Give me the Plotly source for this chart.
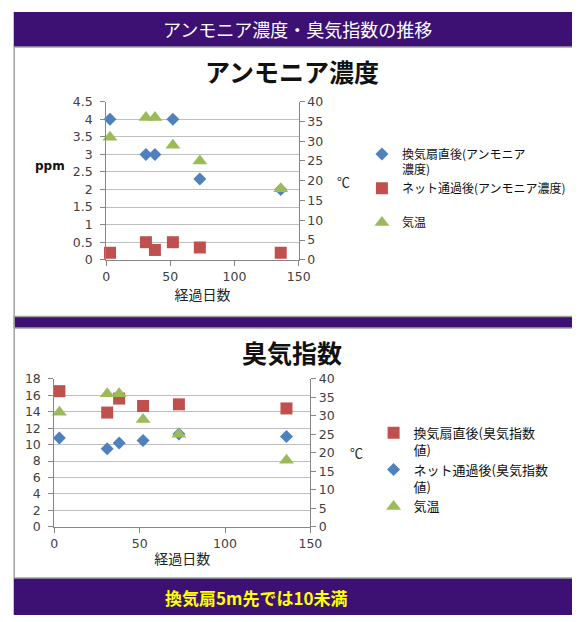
import plotly.graph_objects as go

# ---- data ----
days = [3, 31, 38, 52, 73, 136]
amm_fan = [4.0, 3.0, 3.0, 4.0, 2.3, 2.0]        # 換気扇直後(アンモニア濃度) ppm
amm_net = [0.2, 0.5, 0.28, 0.5, 0.35, 0.2]      # ネット通過後(アンモニア濃度) ppm
temp = [31, 36, 36, 29, 25, 18]                 # 気温 ℃
odor_fan = [16.5, 13.9, 15.6, 14.7, 14.9, 14.4]  # 換気扇直後(臭気指数値)
odor_net = [10.8, 9.5, 10.2, 10.5, 11.3, 11.0]   # ネット通過後(臭気指数値)

x_ticks = [0, 50, 100, 150]

W, H = 584, 622
BLUE, RED, GREEN = "#4F81BD", "#C0504D", "#9BBB59"
PURPLE = "#3d1174"
JP = "Noto Sans CJK JP"
NUM = "DejaVu Sans, Noto Sans CJK JP"
AX = "#868686"
GRID = "#bfbfbf"
TXT = "#404040"


def px(v):
    return v / W


def py(v):
    return 1 - v / H


fig = go.Figure()

# ---- chart 1 : アンモニア濃度 ----
fig.add_trace(go.Scatter(x=days, y=amm_fan, mode="markers", name="換気扇直後(アンモニア<br>濃度)",
                         marker=dict(symbol="diamond", color=BLUE, size=10),
                         xaxis="x", yaxis="y", legend="legend", cliponaxis=False))
fig.add_trace(go.Scatter(x=days, y=amm_net, mode="markers", name="ネット通過後(アンモニア濃度)<br>\u00a0",
                         marker=dict(symbol="square", color=RED, size=12),
                         xaxis="x", yaxis="y", legend="legend", cliponaxis=False))
fig.add_trace(go.Scatter(x=days, y=temp, mode="markers", name="気温",
                         marker=dict(symbol="triangle-up", color=GREEN, size=13),
                         xaxis="x", yaxis="y2", legend="legend", cliponaxis=False))

# ---- chart 2 : 臭気指数 ----
fig.add_trace(go.Scatter(x=days, y=odor_fan, mode="markers", name="換気扇直後(臭気指数<br>値)",
                         marker=dict(symbol="square", color=RED, size=12),
                         xaxis="x2", yaxis="y3", legend="legend2", cliponaxis=False))
fig.add_trace(go.Scatter(x=days, y=odor_net, mode="markers", name="ネット通過後(臭気指数<br>値)",
                         marker=dict(symbol="diamond", color=BLUE, size=10),
                         xaxis="x2", yaxis="y3", legend="legend2", cliponaxis=False))
fig.add_trace(go.Scatter(x=days, y=temp, mode="markers", name="気温",
                         marker=dict(symbol="triangle-up", color=GREEN, size=13),
                         xaxis="x2", yaxis="y4", legend="legend2", cliponaxis=False))

tickfont = dict(family=NUM, size=12.5, color=TXT)
common = dict(showline=True, linecolor=AX, linewidth=1, ticks="outside", ticklen=5,
              tickcolor=AX, tickfont=tickfont, zeroline=False, fixedrange=True)

fig.update_layout(
    width=W, height=H, margin=dict(l=0, r=0, t=0, b=0),
    paper_bgcolor="white", plot_bgcolor="white",
    xaxis=dict(domain=[px(105), px(303)], range=[0, 150], tickvals=x_ticks, anchor="y",
               showgrid=False,
               title=dict(text="経過日数", font=dict(family=JP, size=14, color="#222"), standoff=4),
               **common),
    yaxis=dict(domain=[py(258), py(96)], range=[0, 4.5], dtick=0.5, anchor="x",
               showgrid=True, gridcolor=GRID, ticklabelstandoff=5, **common),
    yaxis2=dict(overlaying="y", side="right", anchor="x", range=[0, 40], dtick=5,
                showgrid=False, **common),
    xaxis2=dict(domain=[px(51.7), px(315)], range=[0, 150], tickvals=x_ticks, anchor="y3",
                showgrid=False,
                title=dict(text="経過日数", font=dict(family=JP, size=14, color="#222"), standoff=4),
                **common),
    yaxis3=dict(domain=[py(531.7), py(380)], range=[0, 18], dtick=2, anchor="x2",
                showgrid=True, gridcolor=GRID, ticklabelstandoff=5, **common),
    yaxis4=dict(overlaying="y3", side="right", anchor="x2", range=[0, 40], dtick=5,
                showgrid=False, **common),
    legend=dict(x=px(368), y=py(135), xanchor="left", yanchor="top", valign="top",
                bgcolor="rgba(0,0,0,0)", font=dict(family=JP, size=12, color="#111"),
                tracegroupgap=9),
    legend2=dict(x=px(380), y=py(420), xanchor="left", yanchor="top", valign="top",
                 bgcolor="rgba(0,0,0,0)", font=dict(family=JP, size=13, color="#111"),
                 tracegroupgap=8),
    showlegend=True,
)

# ---- frame / purple bands ----
shapes = [
    dict(type="rect", xref="paper", yref="paper", x0=px(10), x1=1, y0=py(40), y1=py(4),
         fillcolor=PURPLE, line=dict(width=0), layer="below"),
    dict(type="rect", xref="paper", yref="paper", x0=px(10), x1=1, y0=py(328), y1=py(316),
         fillcolor=PURPLE, line=dict(width=0), layer="below"),
    dict(type="rect", xref="paper", yref="paper", x0=px(10), x1=1, y0=0, y1=py(584),
         fillcolor=PURPLE, line=dict(width=0), layer="below"),
    # grey frame lines
    dict(type="line", xref="paper", yref="paper", x0=px(10.5), x1=px(10.5), y0=py(584), y1=py(40),
         line=dict(color="#a0a0a0", width=1.5), layer="below"),
]
for yy in (40, 316, 328, 584):
    shapes.append(dict(type="line", xref="paper", yref="paper", x0=px(10), x1=1,
                       y0=py(yy), y1=py(yy), line=dict(color="#a0a0a0", width=1.5),
                       layer="below"))
fig.update_layout(shapes=shapes)

ann = [
    dict(text="アンモニア濃度・臭気指数の推移", x=px(302), y=py(22),
         font=dict(family=JP, size=18, color="white")),
    dict(text="<b>アンモニア濃度</b>", x=px(296), y=py(65),
         font=dict(family=JP, size=25, color="#111")),
    dict(text="<b>臭気指数</b>", x=px(296), y=py(352),
         font=dict(family=JP, size=25, color="#111")),
    dict(text="<b>ppm</b>", x=px(47.5), y=py(162),
         font=dict(family="DejaVu Sans", size=12, color="#111")),
    dict(text="℃", x=px(349), y=py(178), font=dict(family=JP, size=13, color="#222")),
    dict(text="℃", x=px(362), y=py(455), font=dict(family=JP, size=13, color="#222")),
    dict(text="<b>換気扇5m先では10未満</b>", x=px(259), y=py(604),
         font=dict(family=JP, size=17, color="#ffff00")),
]
for a in ann:
    fig.add_annotation(xref="paper", yref="paper", showarrow=False,
                       xanchor="center", yanchor="middle", **a)

fig.write_html(
    "out.html",
    post_script=(
        "document.documentElement.style.margin='0';"
        "document.documentElement.style.padding='0';"
        "document.documentElement.style.overflow='hidden';"
        "document.body.style.margin='0';"
        "document.body.style.padding='0';"
        "document.body.style.overflow='hidden';"
        "window.scrollTo(0,0);"
    ),
)
